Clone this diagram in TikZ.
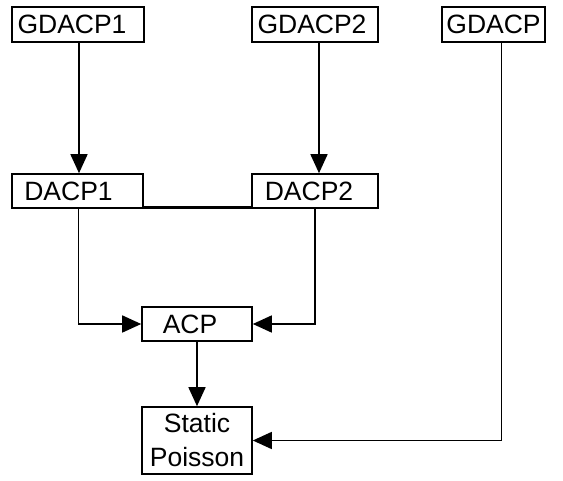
\documentclass[tikz,border=0pt]{standalone}
\usepackage{fontspec}
\setmainfont{Liberation Sans}
\usetikzlibrary{arrows.meta}
\begin{document}
\begin{tikzpicture}[x=1pt,y=-1pt,
  box/.style={draw=black, line width=1.6pt, fill=white, inner sep=0pt, font=\fontsize{26.5}{34}\selectfont, align=center},
  conn/.style={draw=black, line width=1.6pt},
  arr/.style={conn, -{Triangle[length=19pt,width=17pt]}}]
\useasboundingbox (0,0) rectangle (563,481);
\node[box, minimum width=132pt, minimum height=35pt] (g1) at (78,24.5) {GDACP1\hspace{12pt}};
\node[box, minimum width=126pt, minimum height=35pt] (g2) at (315,24.5) {GDACP2\hspace{6pt}};
\node[box, minimum width=103pt, minimum height=35pt] (g) at (493.5,24.5) {GDACP};
\node[box, minimum width=131pt, minimum height=34pt] (d1) at (77.5,191) {DACP1\hspace{18pt}};
\node[box, minimum width=126pt, minimum height=34pt] (d2) at (315,191) {DACP2\hspace{12pt}};
\node[box, minimum width=110pt, minimum height=34pt] (acp) at (197,324) {ACP\hspace{14pt}};
\node[box, minimum width=110pt, minimum height=67pt] (sp) at (197,440.5) {Static\\Poisson};
\draw[arr] ([xshift=1pt]g1.south) -- ([xshift=1pt]g1.south |- d1.north);
\draw[arr] ([xshift=4pt]g2.south) -- ([xshift=4pt]g2.south |- d2.north);
\draw[conn, line width=2.8pt] ([yshift=1pt]d1.south east) -- ([yshift=1pt]d2.south west);
\draw[arr] ([xshift=1pt]d1.south) |- (acp.west);
\draw[arr] (d2.south) |- (acp.east);
\draw[arr] (acp.south) -- (sp.north);
\draw[arr] ([xshift=8pt]g.south) |- (sp.east);
\end{tikzpicture}
\end{document}
